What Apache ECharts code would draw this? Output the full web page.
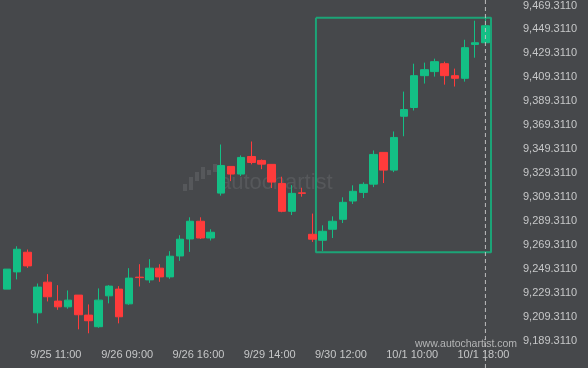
<!DOCTYPE html>
<html>
<head>
<meta charset="utf-8">
<script src="https://cdn.jsdelivr.net/npm/echarts@6/dist/echarts.min.js"></script>
<style>
html,body{margin:0;padding:0;background:#46484b;}
#chart{width:588px;height:368px;}
</style>
</head>
<body>
<div id="chart"></div>
<script>
// ---- data ----
const tickLabels = ['9/25 11:00','9/26 09:00','9/26 16:00','9/29 14:00','9/30 12:00','10/1 10:00','10/1 18:00'];
const tickIndex = [5, 12, 19, 26, 33, 40, 47];
const opens = [9232.4,9246.8,9263.2,9212.6,9238.2,9222.4,9217.6,9227.4,9210.7,9201.0,
  9226.8,9232.4,9220.1,9242.4,9240.1,9249.9,9242.6,9260.1,9274.3,9289.1,
  9275.1,9312.6,9334.9,9328.5,9343.2,9339.9,9336.6,9320.7,9297.4,9312.8,
  9278.2,9273.2,9282.4,9290.7,9306.0,9313.2,9320.1,9346.6,9331.8,9376.8,
  9384.1,9410.7,9414.1,9420.7,9410.7,9408.5,9436.8,9438.2];
const closes = [9249.1,9265.7,9251.8,9234.1,9226.0,9217.6,9223.2,9211.0,9206.0,9223.2,
  9234.9,9209.3,9241.6,9242.0,9249.9,9242.6,9259.9,9274.1,9289.1,9275.1,
  9279.9,9335.7,9328.5,9342.4,9338.2,9336.8,9321.8,9297.4,9312.4,9312.4,
  9274.1,9280.7,9289.1,9304.9,9314.1,9319.9,9344.9,9331.8,9359.1,9382.4,
  9410.7,9415.7,9422.4,9410.7,9408.5,9434.1,9438.2,9452.4];
const lows = [9232.4,9240.5,9250.1,9203.8,9222.1,9215.1,9216.0,9198.8,9195.5,9200.1,
  9220.5,9203.8,9219.3,9234.6,9237.6,9238.5,9241.0,9256.0,9263.5,9274.3,
  9273.0,9310.5,9322.6,9326.8,9336.6,9332.6,9316.8,9296.6,9294.3,9309.6,
  9271.8,9264.3,9275.1,9287.6,9303.5,9308.5,9317.6,9321.0,9330.1,9360.1,
  9381.6,9404.1,9409.9,9403.2,9401.6,9405.7,9425.7,9438.2];
const highs = [9249.1,9268.2,9265.5,9237.1,9244.9,9235.7,9231.3,9227.4,9219.6,9233.0,
  9235.7,9234.9,9249.9,9253.2,9257.4,9253.2,9264.1,9277.4,9292.4,9292.4,
  9282.4,9353.2,9334.9,9344.1,9355.7,9340.7,9336.6,9326.3,9319.3,9317.1,
  9295.5,9285.7,9293.2,9309.1,9319.1,9321.6,9348.2,9346.6,9364.1,9397.4,
  9420.7,9421.6,9424.9,9422.4,9416.6,9440.7,9456.6,9459.9];
const yMin = 9189.311, yMax = 9469.311, yStep = 20;
const rectX = [30.35, 47.55];
const rectY = [9263.2, 9459.1];
const markerIndex = 47;

// ---- build ----
const nSlots = opens.length + 1;
const categories = [];
for (let i = 0; i < nSlots; i++) {
  const k = tickIndex.indexOf(i);
  categories.push(k >= 0 ? tickLabels[k] : '');
}
const candles = opens.map((o, i) => [o, closes[i], lows[i], highs[i]]);
const rectData = [[rectX[0], rectY[1]], [rectX[1], rectY[1]], [rectX[1], rectY[0]], [rectX[0], rectY[0]], [rectX[0], rectY[1]]];

const UP = '#13bf85', DOWN = '#ff3b3b', TXT = '#c6c7c8';
function fmt(v) {
  const n = Math.round((v - yMin) / yStep);
  const s = (yMin + n * yStep).toFixed(4);
  const p = s.split('.');
  return p[0].replace(/\B(?=(\d{3})+(?!\d))/g, ',') + '.' + p[1];
}

const chart = echarts.init(document.getElementById('chart'));
const wm = '#56585b';
chart.setOption({
  animation: false,
  backgroundColor: '#46484b',
  textStyle: { fontFamily: 'Liberation Sans, Arial, sans-serif' },
  grid: [
    { left: 7, right: 92.4, top: 4.7, bottom: 27.3 },
    { left: 7, right: 92.4, top: 0, bottom: 0 }
  ],
  xAxis: [
    { type: 'category', gridIndex: 0, data: categories, boundaryGap: false,
      axisLine: { show: false }, axisTick: { show: false }, splitLine: { show: false },
      axisLabel: { color: TXT, fontSize: 11, margin: 9, padding: [0, 4, 0, 0],
        interval: (i) => tickIndex.indexOf(i) >= 0 } },
    { type: 'value', gridIndex: 0, min: 0, max: nSlots - 1, show: false },
    { type: 'value', gridIndex: 1, min: 0, max: nSlots - 1, show: false }
  ],
  yAxis: [
    { type: 'value', gridIndex: 0, position: 'right', min: yMin, max: yMax, interval: yStep,
      axisLine: { show: false }, axisTick: { show: false }, splitLine: { show: false },
      axisLabel: { color: TXT, fontSize: 11, margin: 27.4, formatter: fmt } },
    { type: 'value', gridIndex: 1, min: 0, max: 1, show: false }
  ],
  graphic: [
    { type: 'rect', shape: { x: 183, y: 184, width: 4, height: 7 }, style: { fill: wm } },
    { type: 'rect', shape: { x: 189, y: 177, width: 4, height: 13 }, style: { fill: wm } },
    { type: 'rect', shape: { x: 195, y: 172, width: 4, height: 9 }, style: { fill: wm } },
    { type: 'rect', shape: { x: 201, y: 167, width: 4, height: 12 }, style: { fill: wm } },
    { type: 'rect', shape: { x: 207, y: 170, width: 4, height: 5 }, style: { fill: wm } },
    { type: 'rect', shape: { x: 213, y: 164, width: 4, height: 8 }, style: { fill: wm } },
    { type: 'text', left: 219, top: 172, silent: true,
      style: { text: 'autochartist', fill: wm, font: '22px "Liberation Sans", sans-serif' } },
    { type: 'text', left: 415, top: 339, silent: true,
      style: { text: 'www.autochartist.com', fill: '#b4b5b6', font: '10.5px "Liberation Sans", sans-serif' } }
  ],
  series: [
    { type: 'candlestick', xAxisIndex: 0, yAxisIndex: 0, data: candles, barWidth: 8, clip: true,
      itemStyle: { color: UP, color0: DOWN, borderColor: UP, borderColor0: DOWN, borderWidth: 1 } },
    { type: 'line', xAxisIndex: 1, yAxisIndex: 0, data: rectData, symbol: 'none',
      lineStyle: { color: '#1ca477', width: 2 }, z: 1 },
    { type: 'line', xAxisIndex: 2, yAxisIndex: 1, data: [[markerIndex, 0], [markerIndex, 1]], symbol: 'none',
      lineStyle: { color: '#bdbdbd', width: 1, type: [4, 3] } }
  ]
});
</script>
</body>
</html>
